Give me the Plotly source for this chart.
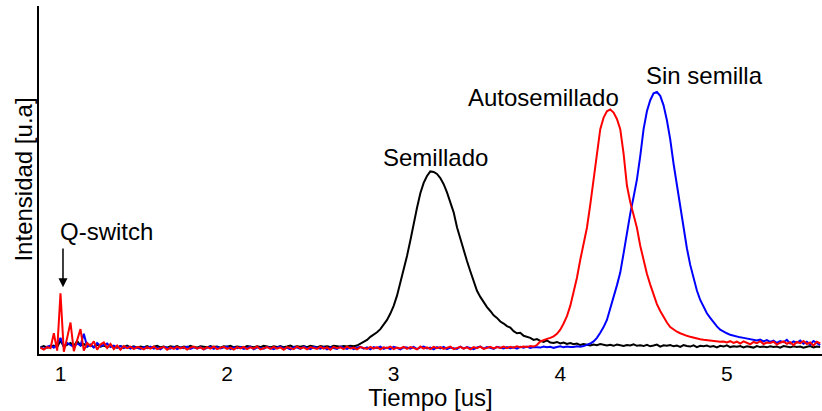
import numpy as np
import plotly.graph_objects as go

# sampling grid of the oscilloscope traces [us]
t_start, t_step, n_pts = 0.88, 0.02, 235
tiempo = np.round(t_start + t_step * np.arange(n_pts), 2)

semillado = [
    0.004, 0.008, 0.002, 0.006, 0.010, 0.004, 0.030, 0.006, 0.012, 0.020,
    0.008, 0.028, 0.010, 0.016, 0.006, 0.012, 0.004, 0.014, 0.006, 0.010,
    0.004, 0.012, 0.006, 0.002, 0.008, 0.004, 0.010, 0.003, 0.007, 0.002,
    0.006, 0.003, 0.008, 0.002, 0.005, 0.009, 0.003, 0.006, 0.002, 0.007,
    0.004, 0.008, 0.002, 0.006, 0.003, 0.009, 0.004, 0.002, 0.007, 0.005,
    0.003, 0.008, 0.004, 0.006, 0.002, 0.007, 0.005, 0.009, 0.003, 0.006,
    0.004, 0.002, 0.008, 0.005, 0.003, 0.007, 0.004, 0.009, 0.006, 0.003,
    0.007, 0.004, 0.008, 0.003, 0.006, 0.010, 0.004, 0.007, 0.005, 0.008,
    0.004, 0.009, 0.006, 0.003, 0.008, 0.005, 0.007, 0.004, 0.009, 0.006,
    0.005, 0.008, 0.006, 0.009, 0.007, 0.010, 0.018, 0.024, 0.032, 0.044,
    0.052, 0.062, 0.074, 0.090, 0.110, 0.135, 0.165, 0.205, 0.255, 0.310,
    0.360, 0.420, 0.488, 0.548, 0.605, 0.645, 0.672, 0.690, 0.688, 0.680,
    0.664, 0.640, 0.608, 0.572, 0.530, 0.472, 0.425, 0.385, 0.340, 0.300,
    0.262, 0.224, 0.200, 0.178, 0.160, 0.145, 0.128, 0.118, 0.104, 0.096,
    0.086, 0.080, 0.066, 0.058, 0.060, 0.048, 0.044, 0.040, 0.032, 0.035,
    0.028, 0.024, 0.030, 0.022, 0.020, 0.024, 0.018, 0.022, 0.016, 0.020,
    0.015, 0.018, 0.012, 0.016, 0.013, 0.010, 0.014, 0.011, 0.016, 0.012,
    0.010, 0.013, 0.009, 0.014, 0.011, 0.008, 0.012, 0.010, 0.015, 0.009,
    0.011, 0.008, 0.013, 0.007, 0.010, 0.014, 0.006, 0.011, 0.009, 0.012,
    0.007, 0.010, 0.005, 0.012, 0.008, 0.006, 0.011, 0.004, 0.009, 0.007,
    0.010, 0.005, 0.008, 0.003, 0.009, 0.006, 0.011, 0.004, 0.007, 0.005,
    0.008, 0.003, 0.007, 0.005, 0.002, 0.008, 0.004, 0.006, 0.003, 0.007,
    0.004, 0.006, 0.002, 0.008, 0.005, 0.003, 0.007, 0.004, 0.006, 0.002,
    0.005, 0.008, 0.003, 0.006, 0.004,
]

sin_semilla = [
    0.004, -0.004, 0.006, 0.010, 0.002, 0.016, 0.040, 0.006, 0.020, 0.012,
    0.004, 0.018, 0.010, 0.056, 0.006, 0.014, 0.002, 0.020, 0.008, 0.012,
    0.018, 0.004, 0.010, 0.002, 0.008, 0.000, 0.006, -0.002, 0.005, 0.001,
    -0.003, 0.004, 0.000, 0.006, -0.002, 0.003, -0.005, 0.005, 0.001, -0.002,
    0.005, -0.004, 0.002, 0.000, 0.006, -0.003, 0.003, -0.001, 0.004, -0.005,
    0.001, 0.005, -0.003, 0.004, -0.001, 0.002, 0.006, -0.004, 0.003, 0.000,
    0.004, -0.003, 0.002, 0.006, -0.005, 0.003, 0.000, -0.002, 0.005, 0.001,
    -0.004, 0.003, 0.006, -0.002, 0.001, -0.005, 0.004, 0.002, -0.003, 0.006,
    0.001, -0.004, 0.005, 0.002, -0.002, 0.004, -0.005, 0.003, 0.000, -0.003,
    0.006, 0.001, -0.003, 0.004, -0.004, 0.002, 0.005, -0.002, 0.003, -0.005,
    0.004, 0.000, 0.006, -0.003, 0.002, -0.004, 0.005, 0.001, -0.005, 0.003,
    0.002, -0.002, 0.005, -0.004, 0.003, 0.006, -0.001, 0.002, -0.005, 0.004,
    -0.001, 0.005, -0.004, 0.002, 0.000, -0.003, 0.006, -0.002, 0.004, 0.001,
    -0.004, 0.003, 0.006, -0.002, 0.004, 0.001, -0.003, 0.005, 0.002, -0.001,
    0.004, 0.000, 0.003, -0.002, 0.005, 0.002, 0.006, 0.001, 0.004, 0.003,
    0.002, 0.006, 0.003, 0.005, 0.001, 0.004, 0.007, 0.003, 0.006, 0.004,
    0.004, 0.007, 0.005, 0.008, 0.012, 0.018, 0.026, 0.040, 0.060, 0.082,
    0.110, 0.160, 0.200, 0.245, 0.295, 0.370, 0.450, 0.525, 0.590, 0.658,
    0.750, 0.855, 0.925, 0.968, 0.995, 1.000, 0.985, 0.948, 0.890, 0.815,
    0.720, 0.640, 0.555, 0.465, 0.390, 0.325, 0.272, 0.225, 0.188, 0.160,
    0.136, 0.118, 0.100, 0.085, 0.072, 0.064, 0.058, 0.052, 0.048, 0.045,
    0.042, 0.040, 0.038, 0.036, 0.034, 0.030, 0.033, 0.026, 0.031, 0.024,
    0.029, 0.020, 0.027, 0.023, 0.032, 0.018, 0.026, 0.021, 0.030, 0.017,
    0.025, 0.014, 0.028, 0.019, 0.012,
]

autosemillado = [
    0.002, -0.006, 0.004, 0.000, 0.058, -0.010, 0.214, -0.014, 0.040, 0.100,
    -0.012, 0.030, 0.074, -0.010, 0.020, 0.008, 0.026, -0.006, 0.014, 0.022,
    0.000, 0.016, -0.004, 0.010, -0.006, 0.008, 0.000, 0.006, -0.004, 0.004,
    0.002, -0.005, 0.004, -0.002, 0.006, -0.004, 0.001, 0.005, -0.006, 0.003,
    -0.003, 0.005, -0.001, 0.004, -0.006, 0.002, 0.006, -0.002, 0.003, -0.005,
    0.004, -0.002, 0.006, -0.004, 0.001, 0.005, -0.003, 0.002, -0.006, 0.004,
    -0.001, 0.005, -0.004, 0.003, -0.002, 0.006, -0.005, 0.001, 0.004, -0.003,
    0.005, -0.002, 0.003, -0.006, 0.004, 0.000, -0.004, 0.006, -0.001, 0.003,
    -0.005, 0.004, 0.001, -0.003, 0.006, -0.002, 0.003, -0.006, 0.005, 0.000,
    0.003, -0.004, 0.006, -0.001, 0.002, -0.005, 0.004, 0.001, -0.003, 0.005,
    -0.002, 0.004, -0.005, 0.003, 0.000, 0.006, -0.004, 0.002, -0.001, 0.005,
    -0.003, 0.004, 0.001, -0.005, 0.006, -0.002, 0.003, -0.004, 0.005, 0.000,
    0.004, -0.003, 0.002, 0.006, -0.004, 0.001, 0.005, -0.002, 0.003, -0.005,
    0.004, 0.000, 0.006, -0.003, 0.002, 0.005, -0.001, 0.004, 0.001, 0.006,
    0.000, 0.005, 0.002, 0.007, 0.003, 0.006, 0.004, 0.008, 0.006, 0.012,
    0.026, 0.032, 0.036, 0.040, 0.046, 0.056, 0.072, 0.096, 0.125, 0.165,
    0.215, 0.275, 0.345, 0.405, 0.470, 0.560, 0.660, 0.760, 0.855, 0.900,
    0.925, 0.932, 0.920, 0.895, 0.855, 0.760, 0.635, 0.570, 0.520, 0.470,
    0.400, 0.340, 0.290, 0.248, 0.210, 0.172, 0.145, 0.122, 0.100, 0.082,
    0.072, 0.064, 0.058, 0.052, 0.048, 0.044, 0.040, 0.038, 0.035, 0.033,
    0.031, 0.030, 0.028, 0.027, 0.025, 0.026, 0.022, 0.027, 0.020, 0.025,
    0.018, 0.026, 0.021, 0.015, 0.024, 0.019, 0.027, 0.016, 0.022, 0.020,
    0.025, 0.014, 0.021, 0.026, 0.017, 0.023, 0.012, 0.024, 0.019, 0.028,
    0.016, 0.022, 0.010, 0.025, 0.018,
]

x_ticks = [1, 2, 3, 4, 5]

FONT = "Liberation Sans, Arial, sans-serif"

fig = go.Figure()
fig.add_trace(go.Scatter(x=tiempo, y=semillado, mode="lines", name="Semillado",
                         line=dict(color="#000000", width=2)))
fig.add_trace(go.Scatter(x=tiempo, y=sin_semilla, mode="lines", name="Sin semilla",
                         line=dict(color="#0000ff", width=2)))
fig.add_trace(go.Scatter(x=tiempo, y=autosemillado, mode="lines", name="Autosemillado",
                         line=dict(color="#ff0000", width=2)))

labels = [
    ("Semillado", 3.248, 0.746),
    ("Autosemillado", 3.902, 0.98),
    ("Sin semilla", 4.868, 1.066),
    ("Q-switch", 1.279, 0.457),
]
for txt, x, y in labels:
    fig.add_annotation(x=x, y=y, text=txt, showarrow=False,
                       font=dict(family=FONT, size=24, color="#000000"),
                       xanchor="center", yanchor="middle")

# Q-switch arrow
fig.add_annotation(x=1.015, y=0.238, ax=1.015, ay=0.395, xref="x", yref="y",
                   axref="x", ayref="y", text="", showarrow=True,
                   arrowhead=2, arrowsize=1.2, arrowwidth=1.5, arrowcolor="#000000")

fig.update_layout(
    width=822, height=411,
    margin=dict(l=39, r=0, t=6, b=57),
    paper_bgcolor="white", plot_bgcolor="white",
    showlegend=False,
    font=dict(family=FONT, color="#000000"),
)
fig.update_xaxes(
    range=[0.871, 5.571], tickvals=x_ticks, ticktext=[str(v) for v in x_ticks],
    showline=True, linecolor="#000000", linewidth=2, ticks="",
    showgrid=False, zeroline=False, tickfont=dict(size=21, family=FONT),
    title=dict(text="Tiempo [us]", font=dict(size=24, family=FONT), standoff=4),
)
fig.update_yaxes(
    range=[-0.023, 1.336], showticklabels=False,
    showline=True, linecolor="#000000", linewidth=2, ticks="",
    showgrid=False, zeroline=False,
)
fig.add_annotation(x=-0.021, y=0.5, xref="paper", yref="paper",
                   text="Intensidad [u.a]", textangle=-90, showarrow=False,
                   font=dict(size=24, family=FONT, color="#000000"),
                   xanchor="center", yanchor="middle")

fig.write_html("out.html", config={"displayModeBar": False},
               post_script="document.body.style.margin='0';")
